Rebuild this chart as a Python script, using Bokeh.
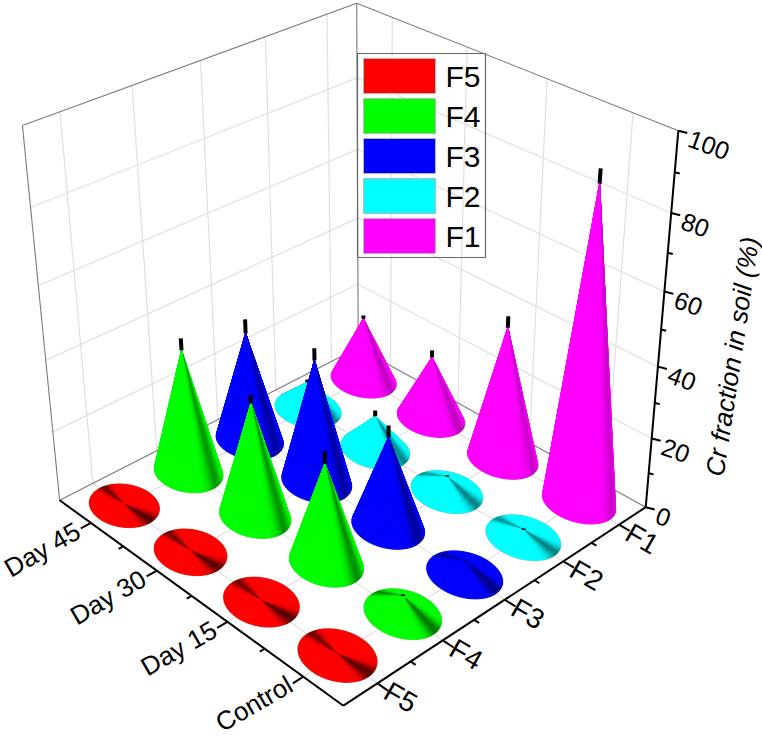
import numpy as np
from bokeh.plotting import figure
from bokeh.models import Range1d, ColumnDataSource
from bokeh.core.properties import value
from bokeh.embed import file_html
from bokeh.resources import INLINE

# ---- data ----
days = ["Control", "Day 15", "Day 30", "Day 45"]
fractions = ["F5", "F4", "F3", "F2", "F1"]
z_ticks = [0, 20, 40, 60, 80, 100]
z_title = "Cr fraction in soil (%)"
F5 = [0.3, 0.3, 0.3, 0.3]
F4 = [5.0, 28.0, 32.2, 35.3]
F3 = [4.0, 25.6, 35.1, 31.5]
F2 = [2.2, 4.5, 9.9, 8.2]
F1 = [86.2, 38.2, 18.4, 18.9]
F5_err = [0.0, 0.0, 0.0, 0.0]
F4_err = [0.5, 3.4, 2.4, 3.4]
F3_err = [0.2, 3.3, 3.4, 4.0]
F2_err = [0.4, 0.4, 1.7, 0.9]
F1_err = [3.7, 3.2, 2.1, 1.0]

series = {"F5": (F5, F5_err), "F4": (F4, F4_err), "F3": (F3, F3_err), "F2": (F2, F2_err), "F1": (F1, F1_err)}
colors = {"F5": (255, 0, 0), "F4": (0, 255, 0), "F3": (0, 0, 255), "F2": (0, 255, 255), "F1": (255, 0, 255)}
dark = {"F5": 0.66, "F4": 0.55, "F3": 0.5, "F2": 0.5, "F1": 0.28}

# ---- 3D box projection, calibrated on the box's corners ----
corners = [((0, 0, 0), (343, 705)), ((1, 0, 0), (59, 500)), ((0, 1, 0), (645, 507)), ((1, 1, 0), (358, 347)),
           ((1, 0, 1), (22, 125)), ((0, 1, 1), (678, 130)), ((1, 1, 1), (356, 3))]
A, b = [], []
for (X, Y, Z), (u, v) in corners:
    A.append([X, Y, Z, 1, 0, 0, 0, 0, -u * X, -u * Y, -u * Z]); b.append(u)
    A.append([0, 0, 0, 0, X, Y, Z, 1, -v * X, -v * Y, -v * Z]); b.append(v)
P = np.append(np.linalg.lstsq(np.array(A, float), np.array(b, float), rcond=None)[0], 1).reshape(3, 4)
NX, NY = len(days), len(fractions)

def pr(x, y, z):
    q = P @ np.array([(x - .5) / NX, (y - .5) / NY, z / 100, 1])
    return q[0] / q[2], q[1] / q[2]

x0, x1, y0, y1 = .5, NX + .5, .5, NY + .5

p = figure(width=762, height=736, x_range=Range1d(0, 762), y_range=Range1d(736, 0),
           x_axis_type=None, y_axis_type=None, toolbar_location=None, output_backend="svg",
           min_border=0, outline_line_color=None, background_fill_color="white")
p.xgrid.visible = False
p.ygrid.visible = False

def seg(a, b, **kw):
    pa, pb = pr(*a), pr(*b)
    p.line([pa[0], pb[0]], [pa[1], pb[1]], **kw)

GRID = dict(line_color="#e0e0e0", line_width=1.2)
EDGE = dict(line_color="#7a7a7a", line_width=1.1)
AXIS = dict(line_color="black", line_width=2)

for i in range(1, NX + 1):
    seg((i, y0, 0), (i, y1, 0), **GRID)
    seg((i, y1, 0), (i, y1, 100), **GRID)
for j in range(1, NY + 1):
    seg((x0, j, 0), (x1, j, 0), **GRID)
    seg((x1, j, 0), (x1, j, 100), **GRID)
for z in z_ticks[1:-1]:
    seg((x1, y0, z), (x1, y1, z), **GRID)
    seg((x0, y1, z), (x1, y1, z), **GRID)

for a, b_ in [((x1, y0, 0), (x1, y1, 0)), ((x0, y1, 0), (x1, y1, 0)), ((x1, y1, 0), (x1, y1, 100)),
              ((x1, y0, 0), (x1, y0, 100)), ((x1, y0, 100), (x1, y1, 100)), ((x0, y1, 100), (x1, y1, 100))]:
    seg(a, b_, **EDGE)

# axes
seg((x0, y0, 0), (x1, y0, 0), **AXIS)
seg((x0, y0, 0), (x0, y1, 0), **AXIS)
seg((x0, y1, 0), (x0, y1, 100), **AXIS)
for i in np.arange(1, NX + .1, .5):
    major = float(i).is_integer()
    seg((i, y0, 0), (i, y0 - (.15 if major else .07), 0), line_color="black", line_width=2)
for j in np.arange(1, NY + .1, .5):
    major = float(j).is_integer()
    seg((x0 - (.13 if major else .06), j, 0), (x0, j, 0), line_color="black", line_width=2)
for z in range(0, 101, 10):
    major = z % 20 == 0
    qx, qy = pr(x0, y1, z)
    p.line([qx, qx + (9 if major else 5)], [qy, qy + (2.3 if major else 1.2)], line_color="black", line_width=2)

# tick labels
FONT = value("Liberation Sans")
lab = []
for i, d in enumerate(days, 1):
    q = pr(i, y0, 0)
    lab.append((q[0] - 13, q[1] + 6, d, 30, "right", "26px"))
for j, f in enumerate(fractions, 1):
    q = pr(x0, j, 0)
    lab.append((q[0] + 9, q[1] + 6, f, -30, "left", "28px"))
for z in z_ticks:
    q = pr(x0, y1, z)
    lab.append((q[0] + 11, q[1] + 7, str(z), -20, "left", "25px"))
src = ColumnDataSource(dict(x=[l[0] for l in lab], y=[l[1] for l in lab], t=[l[2] for l in lab],
                            a=[l[3] for l in lab], al=[l[4] for l in lab], fs=[l[5] for l in lab]))
p.text("x", "y", text="t", angle="a", angle_units="deg", text_align="al", text_baseline="middle",
       text_font=FONT, text_font_size="fs", text_color="black", source=src)
p.text([732], [356], text=[z_title], angle=81.5, angle_units="deg", text_align="center", text_baseline="middle",
       text_font=FONT, text_font_style="italic", text_font_size="26px", text_color="black")

# cones
RX, RY = .385, .375
N = 72
def shade(col, name, t, v):
    d1 = np.exp(-(((t - np.pi + .12) / .30) ** 2))
    d2 = np.exp(-((((t + np.pi) % (2 * np.pi) - np.pi - .10) / .20) ** 2))
    k = dark[name] * (1 - .3 * min(v / 40, 1))
    f = 1 - k * max(d1, .85 * d2)
    return "#%02x%02x%02x" % tuple(int(round(c * f)) for c in col)

items = []
for name, (vals, errs) in series.items():
    j = fractions.index(name) + 1
    for i, (v, e) in enumerate(zip(vals, errs), 1):
        items.append(((i - .5) / NX + (j - .5) / NY, i, j, v, e, name))
items.sort(key=lambda r: -r[0])

for _, i, j, v, e, name in items:
    th = np.linspace(0, 2 * np.pi, N + 1)
    bx, by = np.array([pr(i + RX * np.cos(t), j + RY * np.sin(t), 0) for t in th]).T
    p.line(bx, by, line_color="#b8b8b8", line_width=1.5)
    ax, ay = pr(i, j, v)
    mids = (th[:-1] + th[1:]) / 2
    order = np.argsort(-(np.cos(mids) * RX / NX + np.sin(mids) * RY / NY))
    xs = [[ax, bx[k], bx[k + 1]] for k in order]
    ys = [[ay, by[k], by[k + 1]] for k in order]
    cs = [shade(colors[name], name, mids[k], v) for k in order]
    p.patches(xs, ys, fill_color=cs, line_color=cs, line_width=1)
    if e > 0:
        q0, q1 = pr(i, j, v), pr(i, j, v + e)
        p.line([q0[0], q1[0]], [q0[1], q1[1]], line_color="black", line_width=4)

# legend (transparent box, swatches and labels)
p.quad(left=[357], right=[485], top=[53], bottom=[257], fill_alpha=0, line_color="#666666", line_width=1.2)
for k, name in enumerate(fractions):
    c = "#%02x%02x%02x" % colors[name]
    top = 58 + 40 * k
    p.quad(left=[363], right=[435], top=[top], bottom=[top + 35], fill_color=c, line_color="#b8b8b8", line_width=1)
    p.text([445], [top + 18], text=[name], text_baseline="middle", text_align="left",
           text_font=FONT, text_font_size="30px", text_color="black")

open("out.html", "w").write(file_html(p, INLINE))
